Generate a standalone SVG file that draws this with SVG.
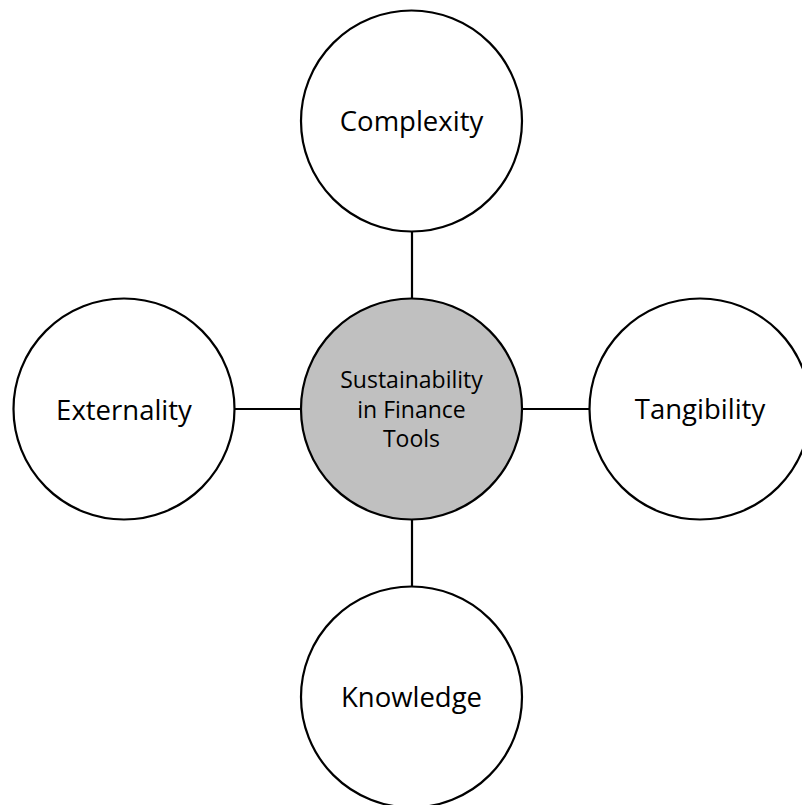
<svg xmlns="http://www.w3.org/2000/svg" width="802" height="805" viewBox="0 0 802 805">
  <style>
    .node { fill: #ffffff; stroke: #000000; stroke-width: 2.2; }
    .hub { fill: #c0c0c0; stroke: #000000; stroke-width: 2.2; }
    .link { stroke: #000000; stroke-width: 2.2; fill: none; }
    .label { font-family: "Open Sans", "Liberation Sans", sans-serif; font-size: 27.5px; fill: #000000; text-anchor: middle; }
    .hub-label { font-family: "Open Sans", "Liberation Sans", sans-serif; font-size: 23px; fill: #000000; text-anchor: middle; }
  </style>
  <rect width="802" height="805" fill="#ffffff"/>
  <g id="connectors">
    <line class="link" x1="412" y1="232" x2="412" y2="298"/>
    <line class="link" x1="412" y1="520" x2="412" y2="586"/>
    <line class="link" x1="235" y1="409" x2="301" y2="409"/>
    <line class="link" x1="522" y1="409" x2="589" y2="409"/>
  </g>
  <g id="hub">
    <circle class="hub" cx="411.5" cy="409" r="110.5"/>
    <text class="hub-label" x="411.5" y="388">Sustainability</text>
    <text class="hub-label" x="411.5" y="418">in Finance</text>
    <text class="hub-label" x="411.5" y="447">Tools</text>
  </g>
  <g id="complexity">
    <circle class="node" cx="411.5" cy="121" r="110.5"/>
    <text class="label" x="411.5" y="131">Complexity</text>
  </g>
  <g id="externality">
    <circle class="node" cx="124" cy="409" r="110.5"/>
    <text class="label" x="124" y="420">Externality</text>
  </g>
  <g id="tangibility">
    <circle class="node" cx="700" cy="409" r="110.5"/>
    <text class="label" x="700" y="419">Tangibility</text>
  </g>
  <g id="knowledge">
    <circle class="node" cx="411.5" cy="697" r="110.5"/>
    <text class="label" x="411.5" y="707">Knowledge</text>
  </g>
</svg>
